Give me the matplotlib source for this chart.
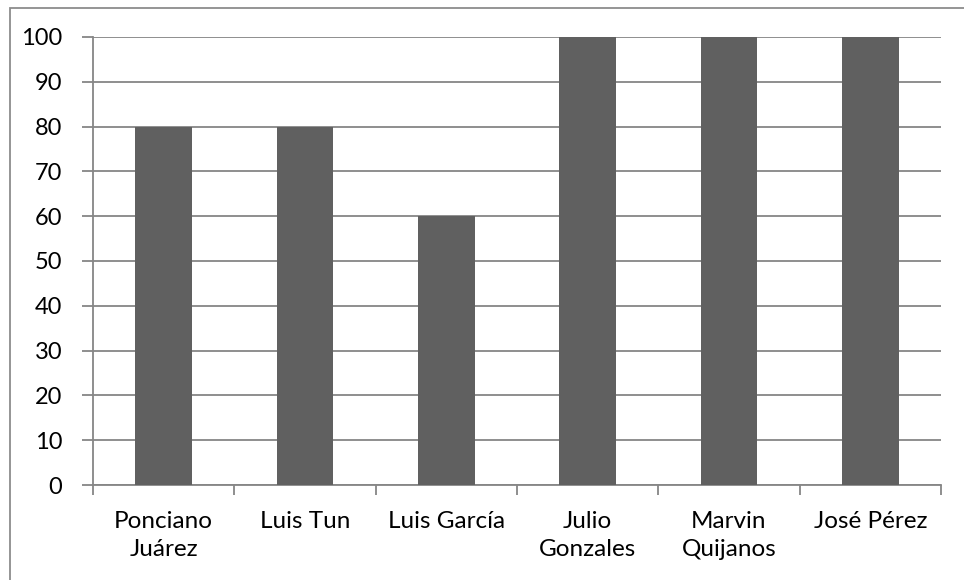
import matplotlib.pyplot as plt
from matplotlib.patches import Rectangle
import numpy as np

plt.rcParams['font.family'] = ['Lato', 'DejaVu Sans']

names = ["Ponciano\nJuárez", "Luis Tun", "Luis García", "Julio\nGonzales", "Marvin\nQuijanos", "José Pérez"]
scores = [80, 80, 60, 100, 100, 100]
y_ticks = [0, 10, 20, 30, 40, 50, 60, 70, 80, 90, 100]

W, H = 964, 580
fig = plt.figure(figsize=(W / 100, H / 100), dpi=100)
grid_col = "#868686"

# outer chart frame
fig.patches.append(Rectangle((10 / W, -0.1), 1.2, 1 - 8 / H + 0.1, transform=fig.transFigure,
                             fill=False, edgecolor="#8c8c8c", linewidth=1.3))

ax = fig.add_axes([93 / W, 1 - 485 / H, (941 - 93) / W, (485 - 37) / H])
x = np.arange(len(names))
ax.bar(x, scores, width=0.4, color="#606060", zorder=3)

ax.set_xlim(-0.5, len(names) - 0.5)
ax.set_ylim(0, 100)
ax.set_yticks(y_ticks)
ax.yaxis.grid(True, color=grid_col, linewidth=1.3, zorder=0)
ax.set_axisbelow(True)

ax.set_xticks(x)
ax.set_xticklabels(names, fontsize=17.5, linespacing=1.4, va="top")
ax.tick_params(axis="x", length=0, pad=19)
ax.set_xticks(np.arange(-0.5, len(names)), minor=True)
ax.tick_params(axis="x", which="minor", length=7, color=grid_col, width=1.3)
ax.tick_params(axis="y", length=8, color=grid_col, width=1.3, labelsize=17, pad=14)

for s in ["top", "right"]:
    ax.spines[s].set_visible(False)
for s in ["left", "bottom"]:
    ax.spines[s].set_color(grid_col)
    ax.spines[s].set_linewidth(1.3)

fig.savefig("out.png", dpi=100)
